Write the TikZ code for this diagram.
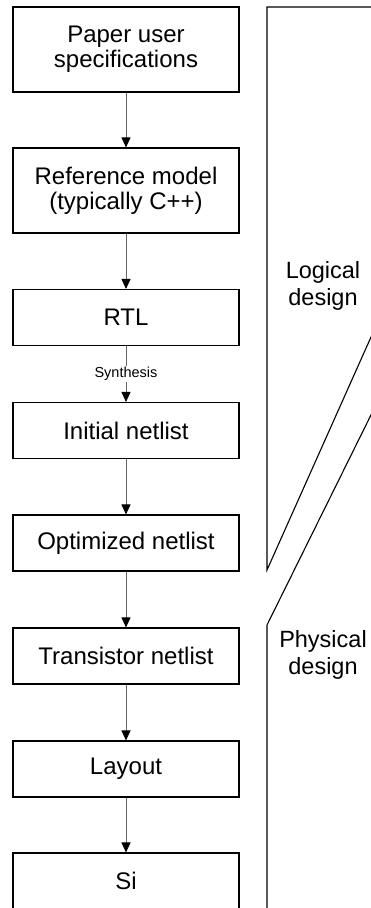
\documentclass[tikz,border=0pt]{standalone}
\usepackage{fontspec}
\setmainfont{Liberation Sans}
\usetikzlibrary{arrows.meta}

\begin{document}
\begin{tikzpicture}[
    x=1pt, y=-1pt,
    stage/.style={rectangle, draw, line width=1.1pt, minimum width=226pt, minimum height=56pt,
        inner sep=0pt, align=center, font=\fontsize{24}{25}\selectfont},
    tall/.style={minimum height=85pt},
    flow/.style={draw=black!60, line width=0.9pt, -{Triangle[length=10pt, width=9pt, color=black]}},
    phase/.style={align=center, font=\fontsize{23.5}{27}\selectfont},
    bracket/.style={draw=black, line width=1.1pt}
]
\useasboundingbox (0,0) rectangle (371,908);

% design flow
\node[stage, tall] (spec) at (126,49.5) {Paper user\\specifications};
\node[stage, tall] (model) at (126,190.5) {Reference model\\(typically C++)};
\node[stage] (rtl) at (126,317.5) {RTL};
\node[stage] (init) at (126,430.5) {Initial netlist};
\node[stage] (opt) at (126,543) {Optimized netlist};
\node[stage] (trans) at (126,656) {Transistor netlist};
\node[stage] (layout) at (126,769) {Layout};
\node[stage] (si) at (126,881) {Si};

\draw[flow] (spec.south) -- (model.north);
\draw[flow] (model.south) -- (rtl.north);
\draw[flow] (rtl.south) -- node[fill=white, inner sep=1pt, font=\fontsize{14.5}{15}\selectfont] (synth) {Synthesis} (init.north);
\draw[flow] (init.south) -- (opt.north);
\draw[flow] (opt.south) -- (trans.north);
\draw[flow] (trans.south) -- (layout.north);
\draw[flow] (layout.south) -- (si.north);

% phases
\node[phase] (logical) at (323,286) {Logical\\design};
\node[phase] (physical) at (323,655) {Physical\\design};

\begin{scope}
    \clip (0,0) rectangle (371,908);
    \draw[bracket] (371,7) -- (267,7) -- (267,570) -- ++(150,-336);
    \draw[bracket] (267,920) -- (267,625) -- ++(150,-303);
\end{scope}
\end{tikzpicture}
\end{document}
